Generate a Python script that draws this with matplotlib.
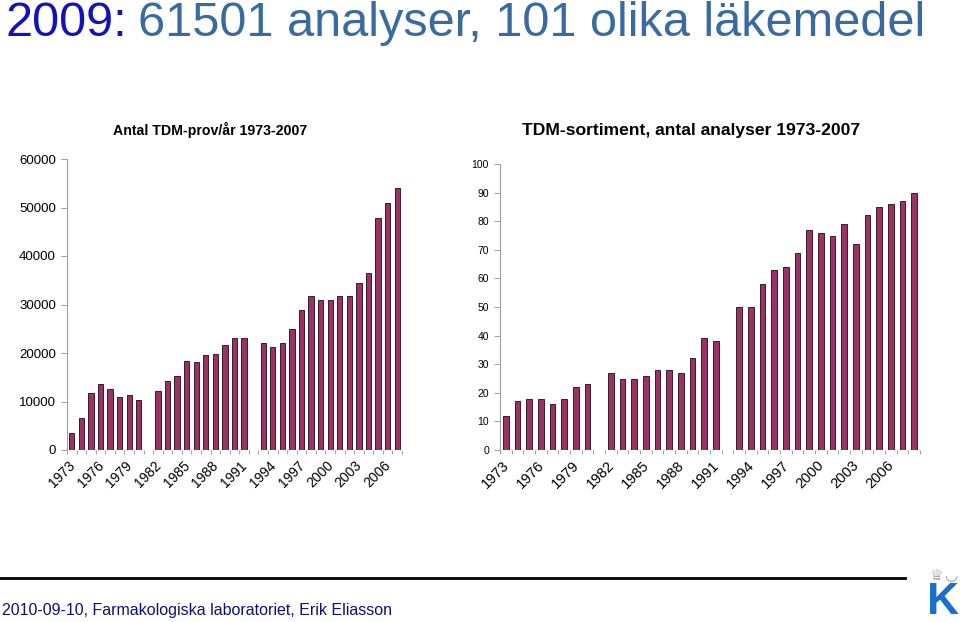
import numpy as np
import matplotlib
matplotlib.use("Agg")
import matplotlib.pyplot as plt
import matplotlib.transforms as mtransforms

plt.rcParams['font.family'] = ['Liberation Sans', 'DejaVu Sans']

# antal TDM-prov per år (1981 och 1992 saknas)
prov_years = [1973, 1974, 1975, 1976, 1977, 1978, 1979, 1980,
              1982, 1983, 1984, 1985, 1986, 1987, 1988, 1989, 1990, 1991,
              1993, 1994, 1995, 1996, 1997, 1998, 1999, 2000, 2001, 2002,
              2003, 2004, 2005, 2006, 2007]
prov_counts = [3600, 6700, 11700, 13700, 12600, 11000, 11300, 10400,
               12100, 14200, 15200, 18300, 18100, 19500, 19800, 21700, 23100, 23000,
               22000, 21200, 22000, 24900, 28800, 31700, 30900, 31000, 31700, 31700,
               34400, 36500, 47900, 50900, 54100]

# TDM-sortiment, antal analyser
sort_years = [1973, 1974, 1975, 1976, 1977, 1978, 1979, 1980,
              1982, 1983, 1984, 1985, 1986, 1987, 1988, 1989, 1990, 1991,
              1993, 1994, 1995, 1996, 1997, 1998, 1999, 2000, 2001, 2002,
              2003, 2004, 2005, 2006, 2007, 2008]
sort_counts = [12, 17, 18, 18, 16, 18, 22, 23,
               27, 25, 25, 26, 28, 28, 27, 32, 39, 38,
               50, 50, 58, 63, 64, 69, 77, 76, 75, 79,
               72, 82, 85, 86, 87, 90]

tick_years = list(range(1973, 2007, 3))

bar_color = '#993366'
edge_color = '#3a1a2a'
axis_gray = '#a0a0a0'

fig = plt.figure(figsize=(9.6, 6.22), dpi=100)


def style_axes(ax, xmin, xmax, ylabel_size, xlabel_size, ypad):
    for s in ['top', 'right', 'bottom']:
        ax.spines[s].set_visible(False)
    ax.spines['left'].set_color(axis_gray)
    ax.spines['left'].set_linewidth(0.8)
    ax.axhline(0, color=axis_gray, lw=0.8, zorder=1)
    ax.set_xlim(xmin, xmax)
    ax.set_xticks(tick_years)
    ax.set_xticks(np.arange(xmin, xmax + 0.01, 1.0), minor=True)
    ax.tick_params(axis='x', which='major', length=0, pad=6)
    ax.tick_params(axis='x', which='minor', length=3, color=axis_gray, width=0.7)
    ax.tick_params(axis='y', length=4, color=axis_gray, width=0.7,
                   labelsize=ylabel_size, pad=ypad)
    offset = mtransforms.ScaledTranslation(-4 / 100, 0, fig.dpi_scale_trans)
    for lab in ax.get_xticklabels():
        lab.set_rotation(45)
        lab.set_ha('right')
        lab.set_rotation_mode('anchor')
        lab.set_fontsize(xlabel_size)
        lab.set_transform(lab.get_transform() + offset)


# vänster diagram
ax1 = fig.add_axes([67 / 960, 172 / 622, 335 / 960, 291 / 622])
ax1.bar(prov_years, prov_counts, width=0.55, color=bar_color,
        edgecolor=edge_color, linewidth=0.7, zorder=2)
ax1.set_ylim(0, 60000)
ax1.set_yticks(range(0, 60001, 10000))
style_axes(ax1, 1972.5, 2007.5, 9.5, 10, 4)
fig.text(210 / 960, 1 - 130 / 622, 'Antal TDM-prov/år 1973-2007',
         ha='center', va='center', fontsize=10.2, fontweight='bold')

# höger diagram
ax2 = fig.add_axes([500 / 960, 172 / 622, 420 / 960, 286 / 622])
ax2.bar(sort_years, sort_counts, width=0.47, color=bar_color,
        edgecolor=edge_color, linewidth=0.7, zorder=2)
ax2.set_ylim(0, 100)
ax2.set_yticks(range(0, 101, 10))
style_axes(ax2, 1972.5, 2008.5, 7.5, 10.5, 4)
fig.text(691 / 960, 1 - 130 / 622, 'TDM-sortiment, antal analyser 1973-2007',
         ha='center', va='center', fontsize=12.6, fontweight='bold')

# rubrik
title_y = 1 - 23 / 622
t = fig.text(5 / 960, title_y, '2009:', ha='left', va='center',
             fontsize=35, color='#1414b4')
fig.canvas.draw()
bb = t.get_window_extent()
fig.text(bb.x1 / 960 + 0.012, title_y, '61501 analyser, 101 olika läkemedel',
         ha='left', va='center', fontsize=35, color='#3a6b9e')

# sidfot
fig.add_artist(plt.Line2D([0, 905 / 960], [1 - 578 / 622, 1 - 578 / 622],
                          color='black', lw=2))
fig.text(2 / 960, 1 - 611 / 622,
         '2010-09-10, Farmakologiska laboratoriet, Erik Eliasson',
         ha='left', va='center', fontsize=11.5, color='#101070')
fig.text(943 / 960, 1 - 603 / 622, 'K', ha='center', va='center',
         fontsize=32, fontweight='bold', color='#1a6fc8')
fig.text(936 / 960, 1 - 576 / 622, '♕', ha='center', va='center',
         fontsize=11, color='#909090', family='DejaVu Sans')
fig.text(951 / 960, 1 - 576 / 622, '◡', ha='center', va='center',
         fontsize=11, color='#909090', family='DejaVu Sans')

fig.savefig('out.png', dpi=100, facecolor='white')
